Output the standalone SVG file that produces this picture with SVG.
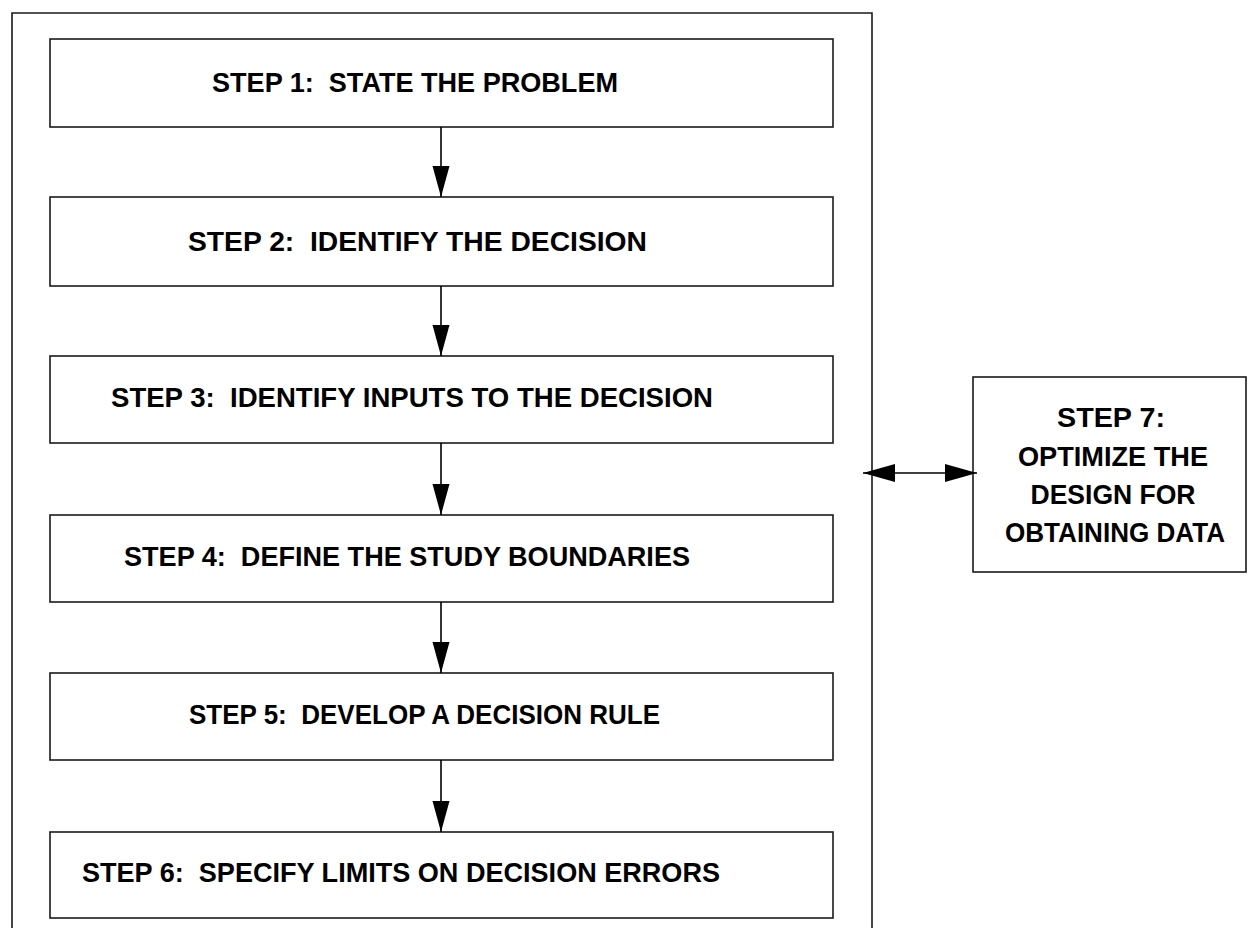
<svg xmlns="http://www.w3.org/2000/svg" width="1248" height="928" viewBox="0 0 1248 928">
<style>
.box{fill:#fff;stroke:#1a1a1a;stroke-width:1.6}
.frame{fill:none;stroke:#1a1a1a;stroke-width:1.6}
.lbl{font-family:"Liberation Sans",Arial,sans-serif;font-weight:bold;font-size:28px;fill:#000}
.lbl7{font-family:"Liberation Sans",Arial,sans-serif;font-weight:bold;font-size:28px;fill:#000;text-anchor:middle}
.conn{stroke:#000;stroke-width:1.6;fill:none}
</style>
<defs>
<marker id="ah" markerUnits="userSpaceOnUse" markerWidth="34" markerHeight="20" refX="32" refY="9" orient="auto">
<polygon points="0,0 32,9 0,18" fill="#000"/>
</marker>
<marker id="ahs" markerUnits="userSpaceOnUse" markerWidth="34" markerHeight="20" refX="0" refY="9" orient="auto">
<polygon points="32,0 0,9 32,18" fill="#000"/>
</marker>
<marker id="av" markerUnits="userSpaceOnUse" markerWidth="32" markerHeight="18" refX="31" refY="8.5" orient="auto">
<polygon points="0,0 31,8.5 0,17" fill="#000"/>
</marker>
</defs>
<g id="frame">
<path class="frame" d="M12,930 V13 H872 V930"/>
</g>
<g id="step1">
<rect class="box" x="50" y="39" width="783" height="88"/>
<text class="lbl" x="212" y="92" textLength="406" lengthAdjust="spacingAndGlyphs" xml:space="preserve">STEP 1:  STATE THE PROBLEM</text>
</g>
<g id="step2">
<rect class="box" x="50" y="197" width="783" height="89"/>
<text class="lbl" x="188" y="251" textLength="459" lengthAdjust="spacingAndGlyphs" xml:space="preserve">STEP 2:  IDENTIFY THE DECISION</text>
</g>
<g id="step3">
<rect class="box" x="50" y="356" width="783" height="87"/>
<text class="lbl" x="111" y="407" textLength="602" lengthAdjust="spacingAndGlyphs" xml:space="preserve">STEP 3:  IDENTIFY INPUTS TO THE DECISION</text>
</g>
<g id="step4">
<rect class="box" x="50" y="515" width="783" height="87"/>
<text class="lbl" x="124" y="566" textLength="566" lengthAdjust="spacingAndGlyphs" xml:space="preserve">STEP 4:  DEFINE THE STUDY BOUNDARIES</text>
</g>
<g id="step5">
<rect class="box" x="50" y="673" width="783" height="87"/>
<text class="lbl" x="189" y="724" textLength="471" lengthAdjust="spacingAndGlyphs" xml:space="preserve">STEP 5:  DEVELOP A DECISION RULE</text>
</g>
<g id="step6">
<rect class="box" x="50" y="832" width="783" height="86"/>
<text class="lbl" x="82" y="882" textLength="638" lengthAdjust="spacingAndGlyphs" xml:space="preserve">STEP 6:  SPECIFY LIMITS ON DECISION ERRORS</text>
</g>
<g id="step7">
<rect class="box" x="973" y="377" width="273" height="195"/>
<text class="lbl7" x="1111" y="427" textLength="108" lengthAdjust="spacingAndGlyphs">STEP 7:</text>
<text class="lbl7" x="1113" y="466" textLength="190" lengthAdjust="spacingAndGlyphs">OPTIMIZE THE</text>
<text class="lbl7" x="1113" y="504" textLength="165" lengthAdjust="spacingAndGlyphs">DESIGN FOR</text>
<text class="lbl7" x="1115" y="542" textLength="220" lengthAdjust="spacingAndGlyphs">OBTAINING DATA</text>
</g>
<g id="connectors">
<line class="conn" x1="441" y1="127" x2="441" y2="197" marker-end="url(#av)"/>
<line class="conn" x1="441" y1="286" x2="441" y2="356" marker-end="url(#av)"/>
<line class="conn" x1="441" y1="443" x2="441" y2="515" marker-end="url(#av)"/>
<line class="conn" x1="441" y1="602" x2="441" y2="673" marker-end="url(#av)"/>
<line class="conn" x1="441" y1="760" x2="441" y2="832" marker-end="url(#av)"/>
<line class="conn" x1="863" y1="473" x2="977" y2="473" marker-start="url(#ahs)" marker-end="url(#ah)"/>
</g>
</svg>
